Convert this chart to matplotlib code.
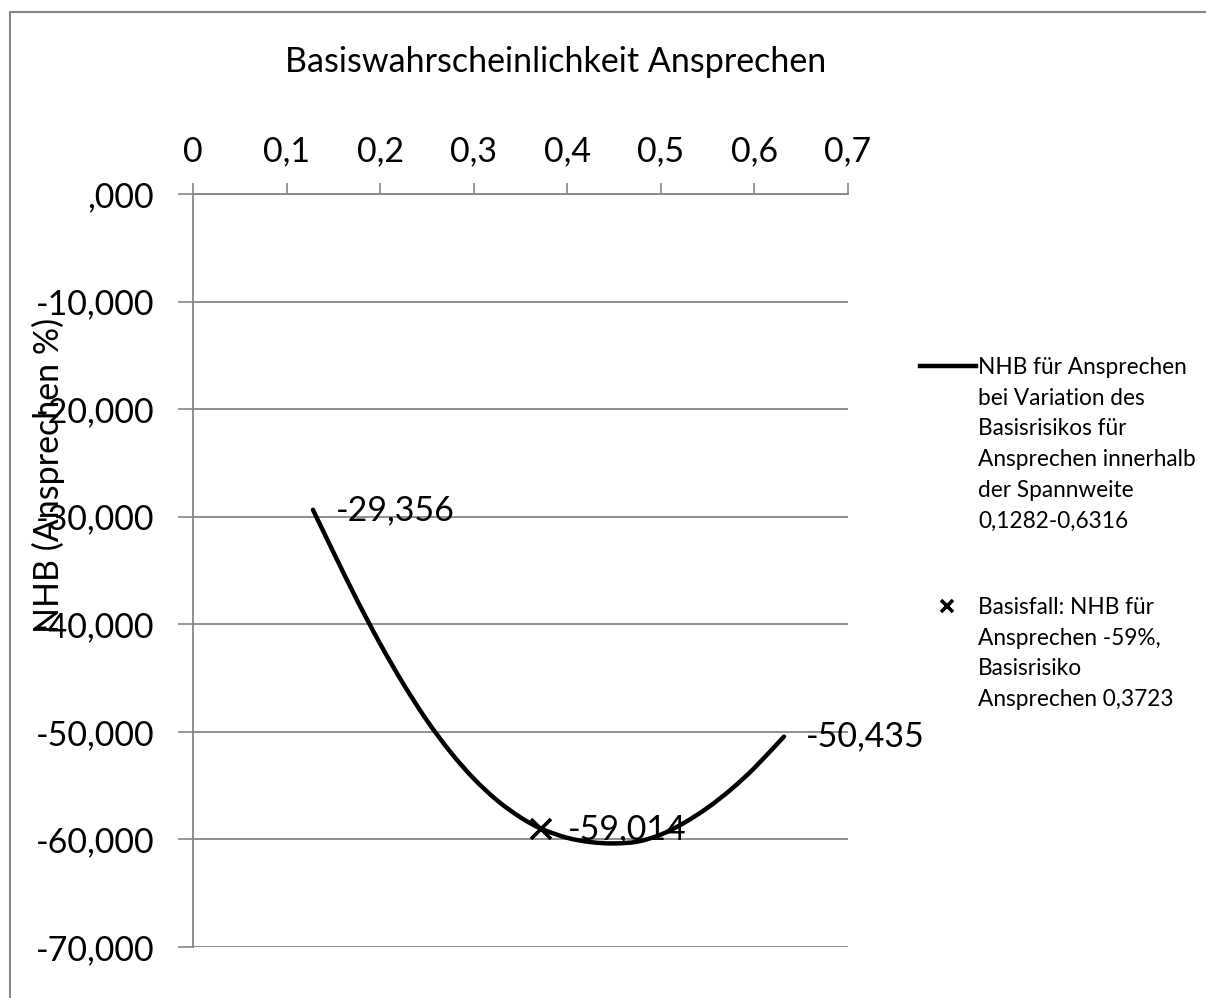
import matplotlib.pyplot as plt
from matplotlib.lines import Line2D
from matplotlib.patches import Rectangle, PathPatch
from matplotlib.path import Path

plt.rcParams['font.family'] = ['Lato', 'DejaVu Sans']

# NHB fuer Ansprechen ueber das Basisrisiko (Spannweite 0,1282-0,6316)
risk = [0.1282, 0.150, 0.175, 0.200, 0.225, 0.250, 0.275, 0.300, 0.325, 0.350,
        0.3723, 0.400, 0.425, 0.450, 0.475, 0.500, 0.525, 0.550, 0.575, 0.600, 0.6316]
nhb = [-29.356, -33.29, -37.70, -41.81, -45.57, -48.94, -51.86, -54.34, -56.37, -57.95,
       -59.014, -59.85, -60.25, -60.37, -60.20, -59.55, -58.45, -57.05, -55.35, -53.35, -50.435]

# Basisfall
base_risk = 0.3723
base_nhb = -59.014

x_ticks = [0, 0.1, 0.2, 0.3, 0.4, 0.5, 0.6, 0.7]
x_labels = ["0", "0,1", "0,2", "0,3", "0,4", "0,5", "0,6", "0,7"]
y_ticks = [0, -10, -20, -30, -40, -50, -60, -70]
y_labels = [",000", "-10,000", "-20,000", "-30,000", "-40,000", "-50,000", "-60,000", "-70,000"]

grey = "#868686"
fs = 24.5


def fmt(v):
    return f"{v:.3f}".replace(".", ",")


def smooth_path(xs, ys):
    # geglaettete Linie wie in Excel: Bezier-Segmente zwischen den Punkten
    pts = list(zip(xs, ys))
    verts = [pts[0]]
    codes = [Path.MOVETO]
    n = len(pts)
    for i in range(n - 1):
        p0 = pts[i - 1] if i > 0 else pts[i]
        p1 = pts[i]
        p2 = pts[i + 1]
        p3 = pts[i + 2] if i + 2 < n else pts[i + 1]
        c1 = (p1[0] + (p2[0] - p0[0]) / 6, p1[1] + (p2[1] - p0[1]) / 6)
        c2 = (p2[0] - (p3[0] - p1[0]) / 6, p2[1] - (p3[1] - p1[1]) / 6)
        verts += [c1, c2, p2]
        codes += [Path.CURVE4] * 3
    return Path(verts, codes)


fig = plt.figure(figsize=(12.06, 9.98), dpi=100)
ax = fig.add_axes([193 / 1206, 1 - 947 / 998, (848 - 193) / 1206, (947 - 194) / 998])

ax.add_patch(PathPatch(smooth_path(risk, nhb), fill=False, edgecolor="black", lw=3.2,
                       capstyle="round", zorder=3))
ax.plot([base_risk], [base_nhb], marker="x", color="black", ms=15, mew=2.6, ls="none", zorder=4)

ax.text(risk[0] + 0.024, nhb[0], fmt(nhb[0]), fontsize=fs, va="center", ha="left")
ax.text(risk[-1] + 0.023, nhb[-1], fmt(nhb[-1]), fontsize=fs, va="center", ha="left")
ax.text(base_risk + 0.028, base_nhb, fmt(base_nhb), fontsize=fs, va="center", ha="left")

ax.set_xlim(0, 0.7)
ax.set_ylim(-70, 0)
ax.set_xticks(x_ticks)
ax.set_xticklabels(x_labels, fontsize=fs)
ax.set_yticks(y_ticks)
ax.set_yticklabels(y_labels, fontsize=fs)
ax.xaxis.tick_top()
ax.tick_params(axis="x", direction="out", length=8, width=1.2, color=grey, pad=11)
ax.tick_params(axis="y", direction="out", length=11, width=1.2, color=grey, pad=17)
ax.yaxis.grid(True, color=grey, lw=1.3)
ax.set_axisbelow(True)
for side in ["bottom", "right"]:
    ax.spines[side].set_visible(False)
for side in ["top", "left"]:
    ax.spines[side].set_color(grey)
    ax.spines[side].set_linewidth(1.3)

fig.text(556 / 1206, 1 - 62 / 998, "Basiswahrscheinlichkeit Ansprechen",
         fontsize=fs, ha="center", va="center")
fig.text(48 / 1206, 1 - 475 / 998, "NHB (Ansprechen %)", fontsize=fs,
         rotation=90, ha="center", va="center")

# Legende rechts
leg_fs = 16.3
fig.add_artist(Line2D([920 / 1206, 976 / 1206], [1 - 366 / 998] * 2, color="black", lw=3.2,
                      transform=fig.transFigure))
fig.text(978 / 1206, 1 - 357 / 998,
         "NHB für Ansprechen\nbei Variation des\nBasisrisikos für\nAnsprechen innerhalb\nder Spannweite\n0,1282-0,6316",
         fontsize=leg_fs, ha="left", va="top", linespacing=1.57)
fig.add_artist(Line2D([947 / 1206], [1 - 606 / 998], marker="x", color="black", ms=9, mew=2.6,
                      transform=fig.transFigure))
fig.text(978 / 1206, 1 - 597 / 998,
         "Basisfall: NHB für\nAnsprechen -59%,\nBasisrisiko\nAnsprechen 0,3723",
         fontsize=leg_fs, ha="left", va="top", linespacing=1.57)

# Rahmen
fig.add_artist(Rectangle((10 / 1206, -0.1), 1.2, 1 - 12 / 998 + 0.1, fill=False,
                         edgecolor=grey, lw=1.5, transform=fig.transFigure))

fig.savefig("out.png", dpi=100)
